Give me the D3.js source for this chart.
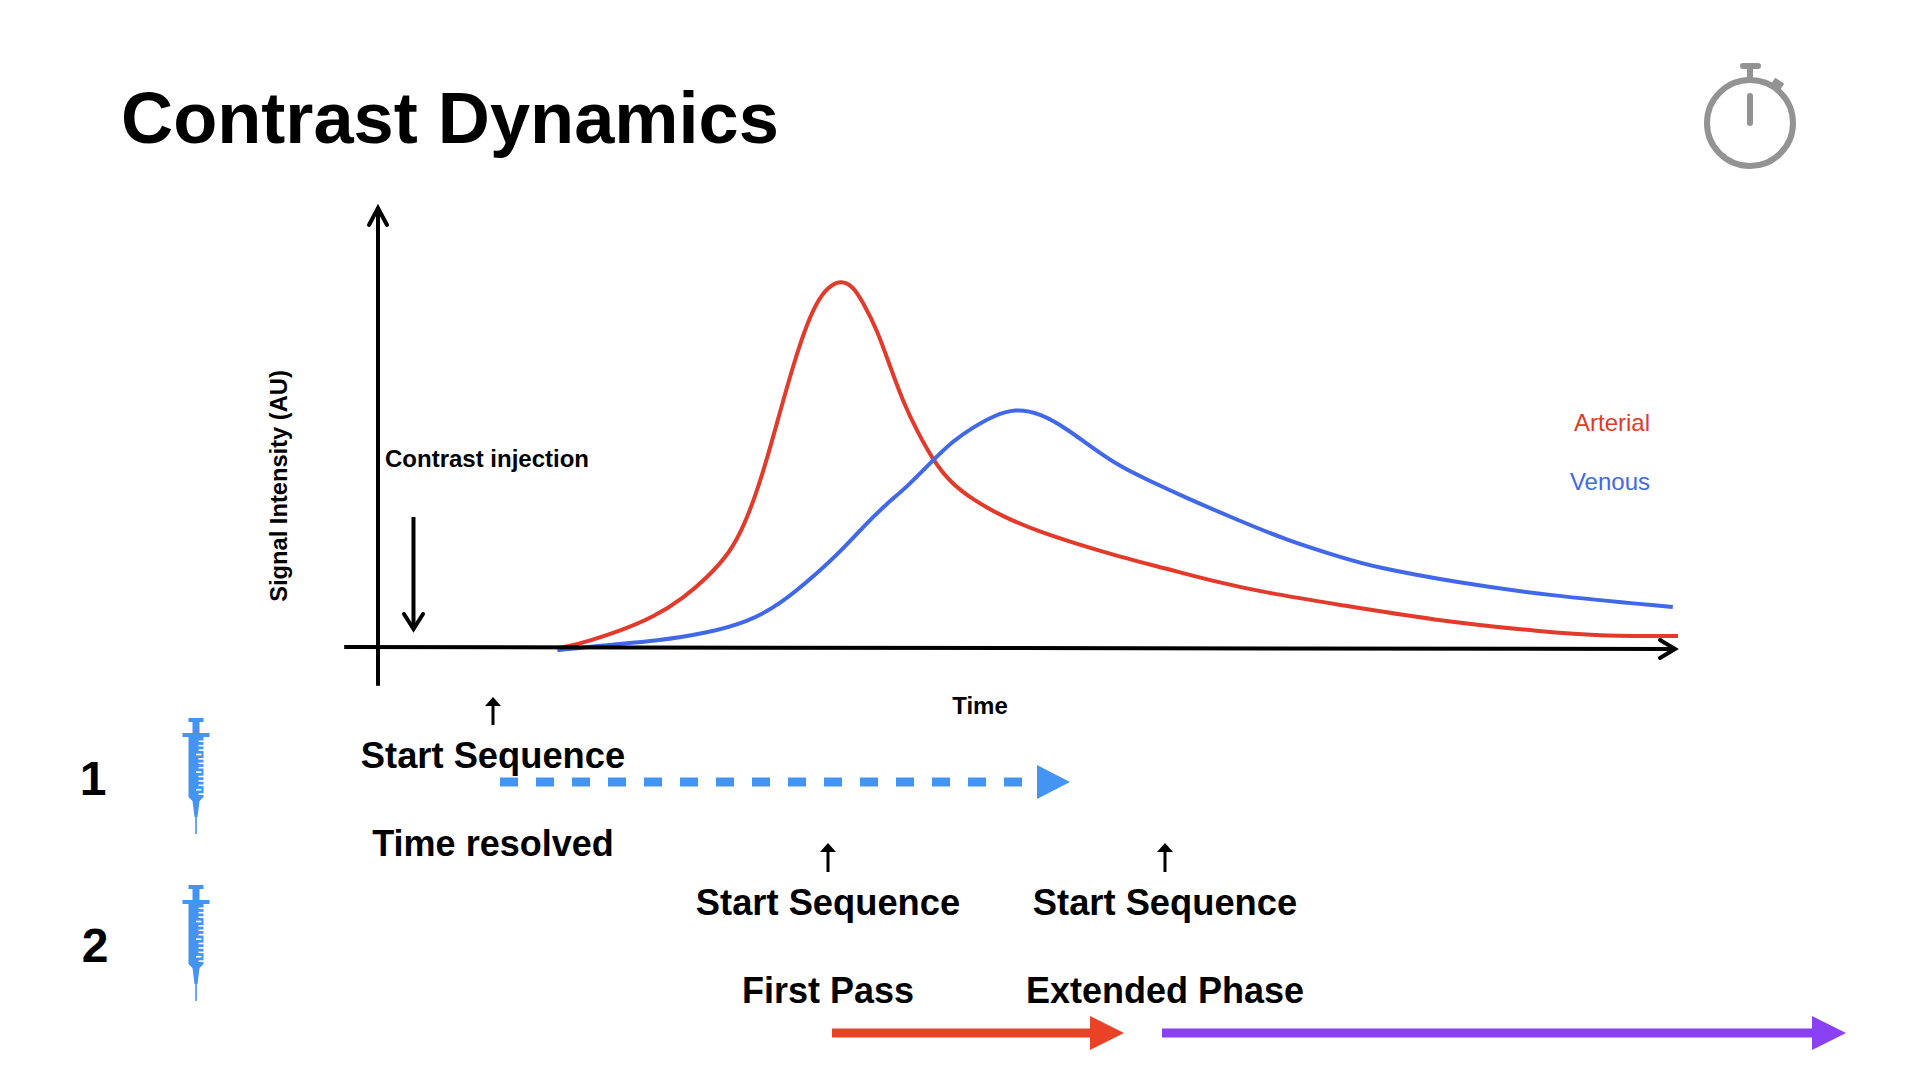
<!DOCTYPE html>
<html>
<head>
<meta charset="utf-8">
<title>Contrast Dynamics</title>
<script src="https://cdn.jsdelivr.net/npm/d3@7"></script>
<style>
  html, body { margin: 0; background: #fff; }
  text { font-family: "Liberation Sans", Arial, sans-serif; font-weight: 700; fill: #000; }
</style>
</head>
<body>
<svg id="chart" width="1920" height="1080"></svg>
<script>
// values, time and signal both in percent of the axes
var arterialTime = [13.8, 14.4, 16.3, 18.8, 21.2, 23.5, 25.3, 27.1, 28.1, 29, 29.9, 30.9, 31.9, 33, 34, 34.9, 35.6, 36.5, 37.3, 38.4, 39.4, 40.4, 41.5, 42.7, 44, 45.8, 48.1, 50.9, 53.5, 57.1, 60.7, 64.5, 68.4, 74, 81, 89.8, 94.3, 100];
var arterialSignal = [0, 0.2, 1.6, 4.1, 7, 11.4, 15.9, 21.8, 27.5, 34.3, 42.7, 53.4, 63.9, 73.9, 80, 82.6, 83.4, 82.4, 78.6, 72.3, 63.9, 55.9, 49.1, 42.7, 37.7, 33.6, 29.8, 26.4, 23.9, 20.7, 18, 15, 12.5, 9.8, 6.4, 3.6, 2.7, 2.7];
var venousTime = [13.8, 17.6, 21.5, 25.3, 28.4, 30.9, 33.8, 35.7, 37.3, 39.2, 40.7, 42.7, 44.2, 45.8, 47.3, 49, 50.9, 53, 55, 57.1, 59.2, 62.2, 65.8, 69.9, 74, 76.6, 83.2, 89.8, 99.6];
var venousSignal = [-0.5, 0.7, 1.6, 3.4, 5.9, 9.8, 17, 22.3, 27.5, 33, 36.6, 42.7, 47, 50.2, 52.7, 54.4, 53.4, 49.8, 45.4, 41.2, 38.2, 34.1, 29.5, 24.5, 20.7, 18.4, 14.8, 12, 9.3];
var seriesNames = ["Arterial", "Venous"];
var seriesColors = ["#E23A2B", "#4168E8"];
var rowLabels = ["1", "2"];

var svg = d3.select("#chart");
var x = d3.scaleLinear().domain([0, 100]).range([378, 1678]);
var y = d3.scaleLinear().domain([0, 100]).range([648, 208]);

var lineGen = d3.line()
    .x(function(d) { return x(d[0]); })
    .y(function(d) { return y(d[1]); })
    .curve(d3.curveBasis);

function label(txt, px, py, size, anchor) {
    return svg.append("text")
        .attr("x", px).attr("y", py)
        .attr("font-size", size)
        .attr("text-anchor", anchor || "middle")
        .text(txt);
}

// solid or dashed shaft with a filled triangular head
function blockArrow(x0, x1, tip, py, color, dash) {
    svg.append("line")
        .attr("x1", x0).attr("x2", x1).attr("y1", py).attr("y2", py)
        .attr("stroke", color).attr("stroke-width", 9)
        .attr("stroke-dasharray", dash || null);
    svg.append("path")
        .attr("d", "M" + x1 + "," + (py - 17) + "L" + tip + "," + py + "L" + x1 + "," + (py + 17) + "Z")
        .attr("fill", color);
}

function upArrow(px, top, bottom) {
    svg.append("line")
        .attr("x1", px).attr("x2", px).attr("y1", top + 4).attr("y2", bottom)
        .attr("stroke", "#000").attr("stroke-width", 3);
    svg.append("path")
        .attr("d", "M" + (px - 8) + "," + (top + 9) + "L" + px + "," + top + "L" + (px + 8) + "," + (top + 9) + "Z")
        .attr("fill", "#000");
}

function syringe(py) {
    var g = svg.append("g").attr("transform", "translate(196," + py + ")").attr("fill", "#4494F4");
    g.append("rect").attr("x", -7.5).attr("y", 0).attr("width", 15).attr("height", 4);
    g.append("rect").attr("x", -3.5).attr("y", 0).attr("width", 7).attr("height", 16);
    g.append("rect").attr("x", -13.5).attr("y", 15).attr("width", 27).attr("height", 4);
    g.append("path").attr("d", "M-7.5,18H7.5V79L3.5,83L1.5,99H0.8V116H-0.8V99H-1.5L-3.5,83L-7.5,79Z");
    d3.range(13).forEach(function(i) {
        g.append("rect")
            .attr("x", i % 4 == 3 ? 0 : 2.5).attr("y", 22.5 + i * 4.4)
            .attr("width", 5.5).attr("height", 1.6)
            .attr("fill", "#fff");
    });
}

// title
label("Contrast Dynamics", 121, 143, 72.2, "start");

// stopwatch icon
var watch = svg.append("g").attr("stroke", "#939393").attr("fill", "none").attr("stroke-width", 6);
watch.append("circle").attr("cx", 1750).attr("cy", 123).attr("r", 43);
watch.append("line").attr("x1", 1743).attr("x2", 1758).attr("y1", 66).attr("y2", 66).attr("stroke-linecap", "round");
watch.append("line").attr("x1", 1750).attr("x2", 1750).attr("y1", 66).attr("y2", 80);
watch.append("line").attr("x1", 1750).attr("x2", 1750).attr("y1", 96).attr("y2", 123).attr("stroke-linecap", "round");
watch.append("line").attr("x1", 1773).attr("x2", 1782).attr("y1", 81).attr("y2", 87).attr("stroke-width", 8);

// series
var series = [d3.zip(arterialTime, arterialSignal), d3.zip(venousTime, venousSignal)];
svg.selectAll("path.curve")
    .data(series)
    .enter()
    .append("path")
    .attr("class", "curve")
    .attr("d", lineGen)
    .attr("fill", "none")
    .attr("stroke", function(d, i) { return seriesColors[i]; })
    .attr("stroke-width", 4);

// axes, arrows at the far ends
var axis = svg.append("g").attr("fill", "none").attr("stroke", "#000").attr("stroke-width", 4);
axis.append("path").attr("d", "M" + x(0) + "," + y(-8.6) + "V" + y(100));
axis.append("path").attr("stroke-linecap", "round").attr("d", "M" + (x(0) - 9) + "," + (y(100) + 17) + "L" + x(0) + "," + y(100) + "L" + (x(0) + 9) + "," + (y(100) + 17));
axis.append("path").attr("d", "M" + x(-2.6) + ",647L" + (x(100) - 3) + ",649");
axis.append("path").attr("stroke-linecap", "round").attr("d", "M" + (x(100) - 18) + ",640L" + (x(100) - 3) + ",649L" + (x(100) - 18) + ",658");

// contrast injection
label("Contrast injection", 385, 467, 24, "start");
var inj = svg.append("g").attr("fill", "none").attr("stroke", "#000").attr("stroke-width", 4);
inj.append("path").attr("d", "M413.5,517V628");
inj.append("path").attr("stroke-linecap", "round").attr("d", "M404,614L413.5,629L423,614");

// legend
seriesNames.forEach(function(name, i) {
    label(name, 1650, 431 + i * 59, 24, "end")
        .style("font-weight", 400)
        .style("fill", seriesColors[i]);
});

// axis titles
label("Time", 980, 714, 24);
svg.append("text")
    .attr("transform", "translate(287,486) rotate(-90)")
    .attr("text-anchor", "middle")
    .attr("font-size", 23.7)
    .text("Signal Intensity (AU)");

// protocol rows
rowLabels.forEach(function(t, i) {
    label(t, i == 0 ? 93 : 95, 795 + i * 167, 48);
    syringe(718 + i * 167);
});

label("Start Sequence", 493, 768, 36.3);
label("Time resolved", 493, 856, 36);
label("Start Sequence", 828, 915, 36.3);
label("First Pass", 828, 1003, 36);
label("Start Sequence", 1165, 915, 36.3);
label("Extended Phase", 1165, 1003, 36);

upArrow(493, 697, 725);
upArrow(828, 843, 872);
upArrow(1165, 843, 872);

blockArrow(500, 1037, 1070, 782, "#4494F4", "18 18");
blockArrow(832, 1090, 1124, 1033, "#EA4227");
blockArrow(1162, 1812, 1846, 1033, "#8A41F5");
</script>
</body>
</html>
